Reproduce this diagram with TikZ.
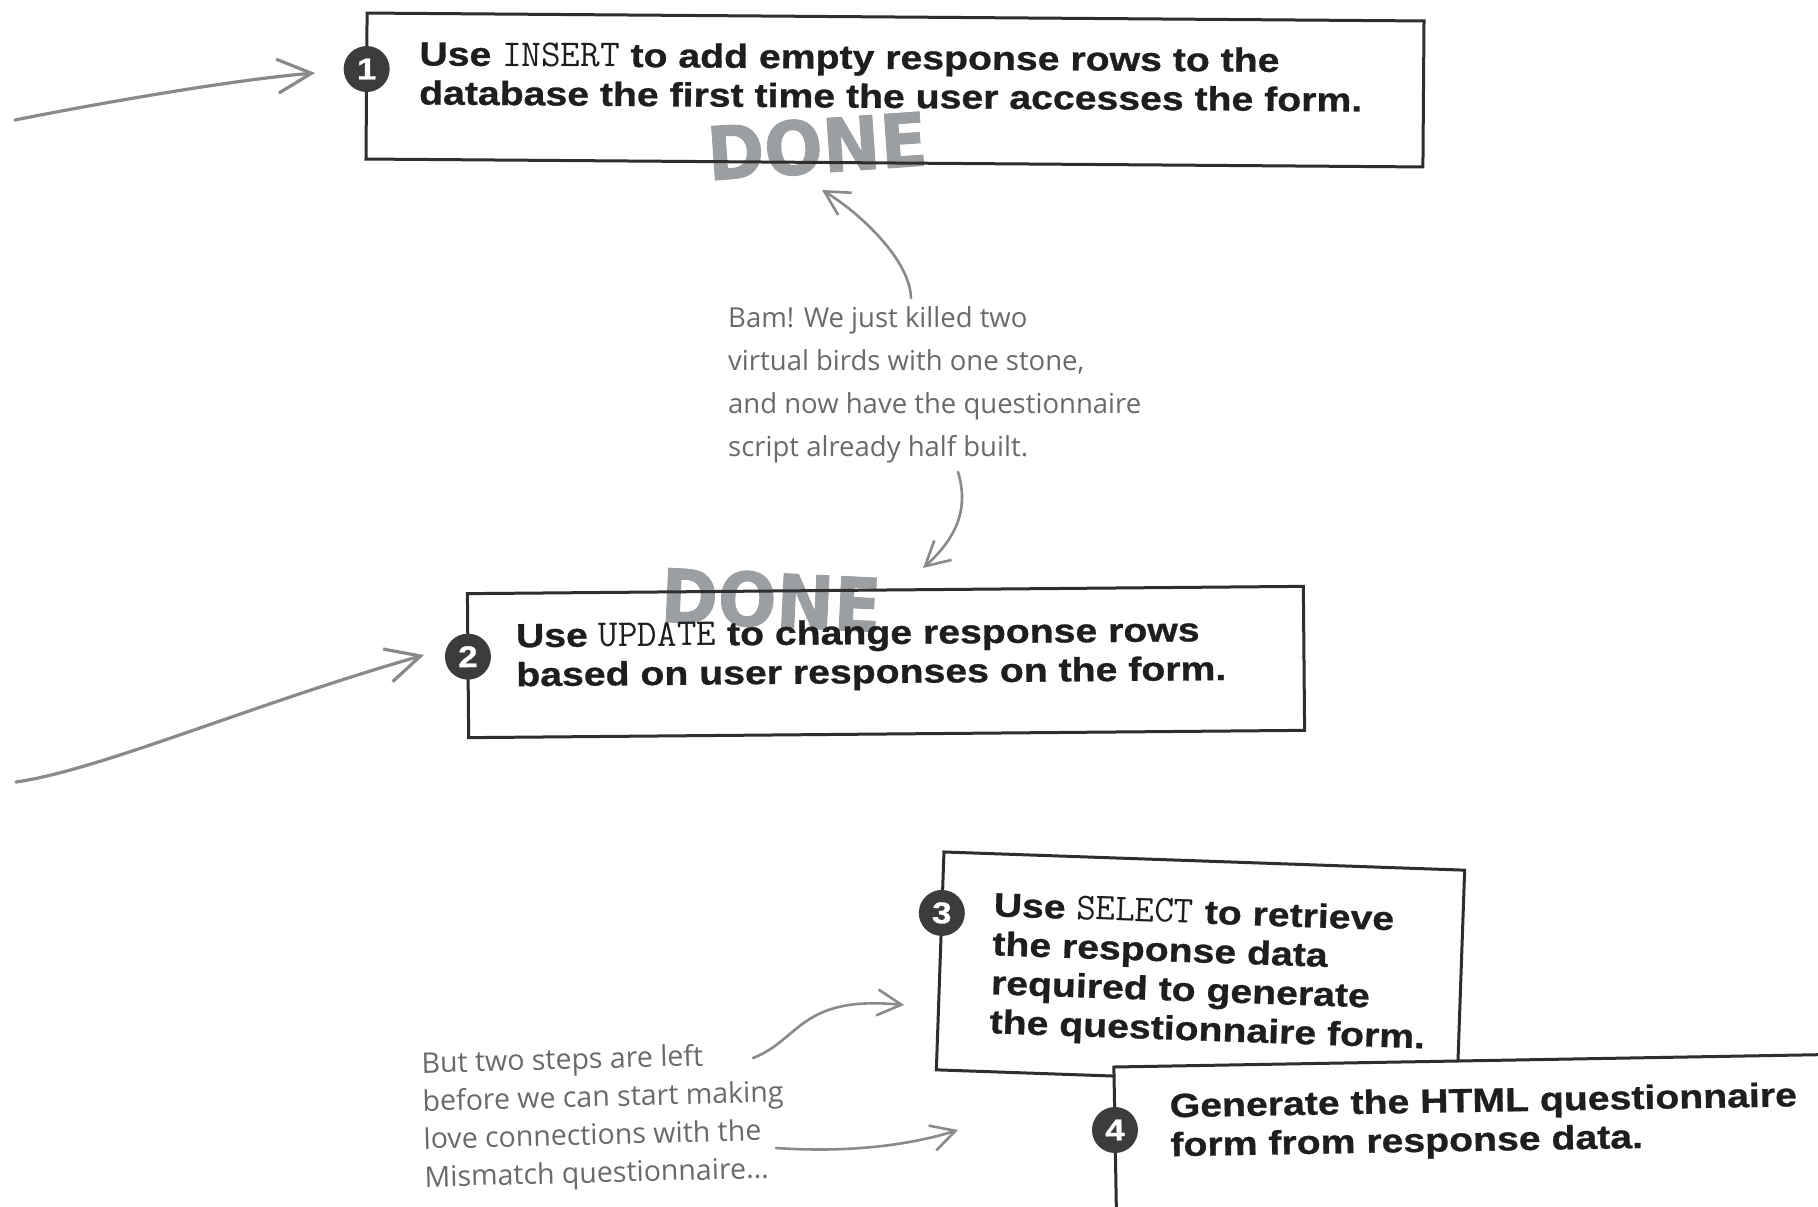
\documentclass[tikz,border=0pt]{standalone}
\usepackage{fontspec}
\usetikzlibrary{arrows.meta}
\newfontfamily\boxfont{Liberation Sans}[FakeStretch=1.17, BoldFeatures={FakeBold=0.8}]
\newfontfamily\codefont{Latin Modern Mono}
\newfontfamily\donefont{DejaVu Sans}[FakeStretch=0.93, BoldFeatures={FakeBold=1.2}]
\newfontfamily\handfont{Open Sans}
\definecolor{inkc}{HTML}{1E1E1E}
\definecolor{edgec}{HTML}{2E2E2E}
\definecolor{donec}{HTML}{9C9FA2}
\definecolor{arrowc}{HTML}{8A8A8A}
\definecolor{handc}{HTML}{6A6A6A}
\definecolor{badgec}{HTML}{3C3C3C}
\newcommand{\sqlword}[1]{{\codefont\fontsize{38}{39}\selectfont #1}}
\tikzset{
 stepbox/.style={draw=edgec, line width=3pt, inner sep=0pt},
 badge/.style={circle, fill=badgec, minimum size=46pt, inner sep=0pt, text=white,
   font=\boxfont\bfseries\fontsize{30}{30}\selectfont},
 steptext/.style={anchor=north west, inner sep=0pt, align=left, text=inkc,
   font=\boxfont\bfseries\fontsize{33.5}{39}\selectfont},
 donetext/.style={text=donec, inner sep=0pt, font=\donefont\bfseries\fontsize{74}{74}\selectfont},
 handtext/.style={anchor=north west, inner sep=0pt, align=left, text=handc},
 bigarrow/.style={draw=arrowc, line width=3.2pt, line cap=round, -{Straight Barb[length=34pt,width=34pt]}},
 handarrow/.style={draw=arrowc, line width=2.6pt, line cap=round, -{Straight Barb[length=24pt,width=26pt]}},
}
\begin{document}
\begin{tikzpicture}[x=1pt,y=-1pt]
\useasboundingbox (0,0) rectangle (1818,1207);
\clip (0,0) rectangle (1818,1207);
\fill[white] (0,0) rectangle (1818,1207);

% DONE stamps
\node[donetext, rotate=4] (d1) at (817,146) {DONE};
\node[donetext, rotate=-2.7] (d2) at (771,600) {DONE};

% Step 1
\begin{scope}[shift={(895,90)}, rotate=-0.43, transform shape]
 \node[stepbox, minimum width=1057pt, minimum height=146pt] (b1) at (0,0) {};
 \node[badge] (n1) at (-528.5,-17) {1};
 \node[steptext] (t1) at (-476,-48.5) {\strut Use \sqlword{INSERT} to add empty response rows to the\\ database the first time the user accesses the form.};
\end{scope}

% Step 2
\begin{scope}[shift={(886,662)}, rotate=0.5, transform shape]
 \node[stepbox, minimum width=836pt, minimum height=144pt] (b2) at (0,0) {};
 \node[badge] (n2) at (-418,-9) {2};
 \node[steptext] (t2) at (-370,-45.5) {\strut Use \sqlword{UPDATE} to change response rows\\ based on user responses on the form.};
\end{scope}

% Step 3
\begin{scope}[shift={(1200.5,970)}, rotate=-2, transform shape]
 \node[stepbox, fill=white, minimum width=521pt, minimum height=218pt] (b3) at (0,0) {};
 \node[badge] (n3) at (-260.5,-48) {3};
 \node[steptext] (t3) at (-209,-74) {\strut Use \sqlword{SELECT} to retrieve\\ the response data\\ required to generate\\ the questionnaire form.};
\end{scope}

% Step 4
\begin{scope}[shift={(1516,1185)}, rotate=1, transform shape]
 \node[stepbox, fill=white, minimum width=800pt, minimum height=250pt] (b4) at (0,0) {};
 \node[badge] (n4) at (-400,-62) {4};
 \node[steptext] (t4) at (-345,-101.3) {\strut Generate the HTML questionnaire\\ form from response data.};
\end{scope}

% Hand-written notes
\node[handtext, font=\handfont\fontsize{27.5}{42.8}\selectfont] (bam) at (728,297.5)
 {\strut Bam! We just killed two\\ virtual birds with one stone,\\ and now have the questionnaire\\ script already half built.};
\node[handtext, font=\handfont\fontsize{28.5}{38}\selectfont, rotate=1.5] (note) at (421,1046.4)
 {\strut But two steps are left\\ before we can start making\\ love connections with the\\ Mismatch questionnaire...};

% Arrows
\coordinate (a1s) at (15,120); \coordinate (a1e) at (315,73);
\draw[bigarrow] (a1s) .. controls (90,105) and (230,80) .. (a1e);
\coordinate (a2s) at (16,782); \coordinate (a2e) at (424,655);
\draw[bigarrow] (a2s) .. controls (100,770) and (250,705) .. (a2e);
\coordinate (a3s) at (911,298); \coordinate (a3e) at (822,190);
\draw[handarrow] (a3s) .. controls (910,260) and (860,213) .. (a3e);
\coordinate (a4s) at (958,472); \coordinate (a4e) at (923,568);
\draw[handarrow] (a4s) .. controls (968,505) and (960,535) .. (a4e);
\coordinate (a5s) at (753,1058); \coordinate (a5e) at (904,1005);
\draw[handarrow] (a5s) .. controls (800,1040) and (800,995) .. (a5e);
\coordinate (a6s) at (776,1148); \coordinate (a6e) at (958,1130);
\draw[handarrow] (a6s) .. controls (850,1153) and (910,1145) .. (a6e);
\end{tikzpicture}
\end{document}
